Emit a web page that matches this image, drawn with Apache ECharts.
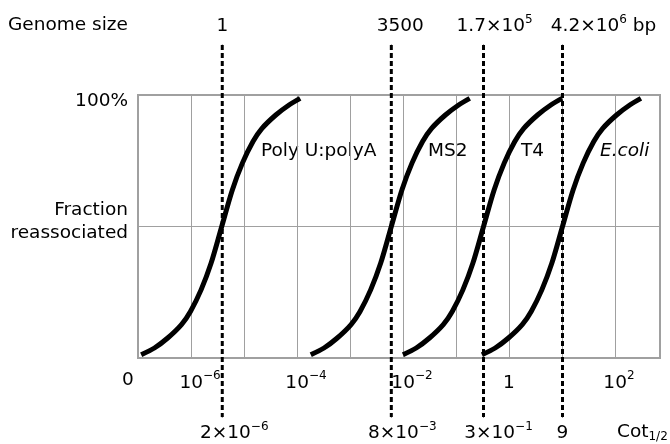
<!DOCTYPE html>
<html><head><meta charset="utf-8">
<script src="https://cdn.jsdelivr.net/npm/echarts@6/dist/echarts.min.js"></script>
<style>html,body{margin:0;padding:0;background:#fff}#c{width:670px;height:444px}</style>
</head><body><div id="c"></div>
<script>
// ---- data (x values are log10 of Cot) ----
const fractionY = [0.012, 0.038, 0.076, 0.127, 0.177, 0.259, 0.361, 0.5, 0.639, 0.741, 0.823, 0.873, 0.924, 0.962, 0.987];
const polyUX = [-6.94, -6.69, -6.44, -6.18, -6.01, -5.81, -5.62, -5.42, -5.22, -5.03, -4.83, -4.66, -4.40, -4.15, -3.94];
const ms2X   = [-3.74, -3.49, -3.24, -2.98, -2.81, -2.61, -2.42, -2.22, -2.02, -1.83, -1.63, -1.46, -1.20, -0.95, -0.74];
const t4X    = [-2.00, -1.75, -1.50, -1.24, -1.07, -0.87, -0.68, -0.48, -0.28, -0.09, 0.11, 0.28, 0.54, 0.79, 1.00];
const ecoliX = [-0.51, -0.26, -0.01, 0.25, 0.42, 0.62, 0.81, 1.01, 1.21, 1.40, 1.60, 1.77, 2.03, 2.28, 2.49];
const curveNames = ['Poly U:polyA', 'MS2', 'T4', 'E.coli'];

const halfCotX = [-5.41, -2.22, -0.48, 1.01];
const genomeBase = ['1', '3500', '1.7×10', '4.2×10'];
const genomeExp = ['', '', '5', '6'];
const genomeSuffix = ['', '', '', ' bp'];
const cotBase = ['2×10', '8×10', '3×10', '9'];
const cotExp = ['−6', '−3', '−1', ''];

const xTickValues = [-7, -6, -4, -2, 0, 2];
const xTickBase = ['0', '10', '10', '10', '1', '10'];
const xTickExp = ['', '−6', '−4', '−2', '', '2'];
const yTickValues = [0.5, 1];
const yTickLabels = ['Fraction\nreassociated', '100%'];

// ---- layout / style ----
const F = '"DejaVu Sans", Verdana, sans-serif';
const FS = 18.5;
const topDx = [0, 9, 11, 41];
const botDx = [12, 11, 15, 0];
const curveLabelPos = [[261, 151], [428, 151], [521, 151], [600, 151]];

const rich = {
  m: {fontFamily: F, fontSize: FS, lineHeight: 22, color: '#000'},
  s: {fontFamily: F, fontSize: 12, lineHeight: 22, padding: [0, 0, 14, 0], color: '#000'},
  b: {fontFamily: F, fontSize: 12, lineHeight: 22, padding: [10, 0, 0, 0], color: '#000'},
  pL: {fontFamily: F, fontSize: FS, lineHeight: 22, padding: [0, 0, 0, 18], color: '#000'},
  pS: {fontFamily: F, fontSize: FS, lineHeight: 22, padding: [0, 0, 0, 8], color: '#000'},
  z: {fontFamily: F, fontSize: FS, lineHeight: 22, padding: [0, 20, 6, 0], color: '#000'},
  t: {fontFamily: F, fontSize: FS, lineHeight: 22, padding: [13, 0, 0, 0], color: '#000'},
  f: {fontFamily: F, fontSize: FS, lineHeight: 23, padding: [0, 0, 10, 0], color: '#000'}
};
function supText(base, exp, suffix) {
  let t = '{m|' + base + '}';
  if (exp) t += '{s|' + exp + '}';
  if (suffix) t += '{m|' + suffix + '}';
  return t;
}

const curveSeries = [polyUX, ms2X, t4X, ecoliX].map((xs, i) => ({
  name: curveNames[i],
  type: 'line',
  xAxisIndex: 0, yAxisIndex: 0,
  data: xs.map((x, j) => [x, fractionY[j]]),
  smooth: 0.3,
  symbol: 'none',
  lineStyle: {color: '#000', width: 5},
  z: 3
}));

const dashSeries = halfCotX.map((x, i) => ({
  type: 'line',
  xAxisIndex: 1, yAxisIndex: 1,
  symbol: 'circle', symbolSize: 1,
  itemStyle: {color: '#000'},
  lineStyle: {color: '#000', width: 3, type: [5, 3]},
  z: 4,
  data: [
    {value: [x, 1], label: {show: true, position: 'top', distance: 7, offset: [topDx[i], 0],
      formatter: supText(genomeBase[i], genomeExp[i], genomeSuffix[i]), rich: rich}},
    {value: [x, 0], label: {show: true, position: 'bottom', distance: 5, offset: [botDx[i], 0],
      formatter: supText(cotBase[i], cotExp[i], ''), rich: rich}}
  ]
}));

const option = {
  animation: false,
  backgroundColor: '#fff',
  grid: [
    {left: 138, top: 95, width: 522, height: 263, show: true, borderColor: '#a0a0a0', borderWidth: 2},
    {left: 138, top: 45, width: 522, height: 372, show: false}
  ],
  xAxis: [
    {type: 'value', gridIndex: 0, min: -7, max: 2.85, interval: 1,
      axisLine: {show: false}, axisTick: {show: false},
      splitLine: {show: true, lineStyle: {color: '#a0a0a0', width: 1}},
      axisLabel: {margin: 14, showMaxLabel: false,
        formatter: function (v) {
          const k = xTickValues.indexOf(Math.round(v * 100) / 100);
          if (k < 0) return '';
          if (xTickBase[k] === '0') return '{z|0}';
          if (!xTickExp[k]) return '{m|' + xTickBase[k] + '}';
          return '{' + (xTickExp[k].length > 1 ? 'pL' : 'pS') + '|' + xTickBase[k] + '}{s|' + xTickExp[k] + '}';
        }, rich: rich}},
    {type: 'value', gridIndex: 1, min: -7, max: 2.85, show: false}
  ],
  yAxis: [
    {type: 'value', gridIndex: 0, min: 0, max: 1, interval: 0.5,
      axisLine: {show: false}, axisTick: {show: false},
      splitLine: {show: true, lineStyle: {color: '#a0a0a0', width: 1}},
      axisLabel: {margin: 10, align: 'right',
        formatter: function (v) {
          const k = yTickValues.indexOf(v);
          if (k < 0) return '';
          if (v === 1) return '{t|' + yTickLabels[k] + '}';
          return yTickLabels[k].split('\n').map(s => '{f|' + s + '}').join('\n');
        }, rich: rich}},
    {type: 'value', gridIndex: 1, min: 0, max: 1, show: false}
  ],
  graphic: [
    {type: 'text', left: 8, top: 16, style: {text: 'Genome size', font: FS + 'px ' + F, fill: '#000'}},
    {type: 'text', x: 617, y: 432, style: {text: '{m|Cot}{b|1/2}', rich: rich, verticalAlign: 'middle', fill: '#000'}}
  ].concat(curveNames.map((n, i) => ({
    type: 'text', x: curveLabelPos[i][0], y: curveLabelPos[i][1],
    style: {text: n, font: (n === 'E.coli' ? 'italic ' : '') + FS + 'px ' + F, fill: '#000', verticalAlign: 'middle'}
  }))),
  series: curveSeries.concat(dashSeries)
};
echarts.init(document.getElementById('c')).setOption(option);
</script>
</body></html>
